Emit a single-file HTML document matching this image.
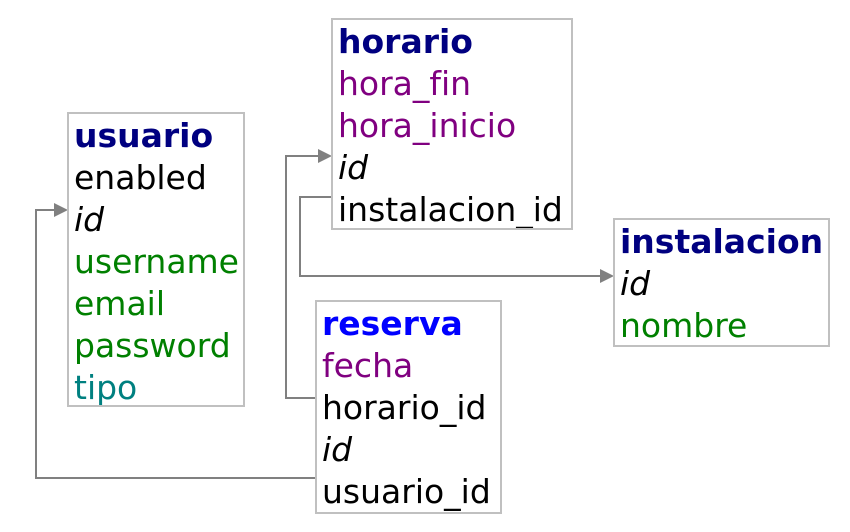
<!DOCTYPE html>
<html><head><meta charset="utf-8"><style>
html,body{margin:0;padding:0;background:#fff;width:850px;height:532px;overflow:hidden}
body{position:relative;font-family:"DejaVu Sans","Liberation Sans",sans-serif;font-size:33px;font-variant-ligatures:none}
.b{position:absolute;border:2px solid #c0c0c0;background:#fff;box-sizing:border-box;padding:1px 0 0 5px;overflow:hidden}
.b div{height:42px;line-height:42px;white-space:nowrap}
.t{font-weight:bold;color:#000080}
.k{color:#000}
.i{font-style:italic;color:#000}
.g{color:#008000}
.p{color:#800080}
.c{color:#008080}
svg{position:absolute;left:0;top:0}
</style></head><body>
<svg width="850" height="532">
<g stroke="#808080" stroke-width="2" fill="none">
<polyline points="332,197 300,197 300,276 604,276"/>
<polyline points="316,398 286,398 286,156 322,156"/>
<polyline points="316,478 36,478 36,210 58,210"/>
</g>
<g fill="#808080">
<polygon points="614,276 600,269 600,283"/>
<polygon points="332,156 318,149 318,163"/>
<polygon points="68,210 54,203 54,217"/>
</g>
</svg>
<div class="b" style="left:67px;top:112px;width:178px;height:295px">
<div class="t">usuario</div><div class="k">enabled</div><div class="i">id</div><div class="g">username</div><div class="g">email</div><div class="g">password</div><div class="c">tipo</div>
</div>
<div class="b" style="left:331px;top:18px;width:242px;height:212px">
<div class="t">horario</div><div class="p">hora_fin</div><div class="p">hora_inicio</div><div class="i">id</div><div class="k">instalacion_id</div>
</div>
<div class="b" style="left:613px;top:218px;width:217px;height:129px">
<div class="t">instalacion</div><div class="i">id</div><div class="g">nombre</div>
</div>
<div class="b" style="left:315px;top:300px;width:187px;height:214px">
<div class="t" style="color:#0000ff">reserva</div><div class="p">fecha</div><div class="k">horario_id</div><div class="i">id</div><div class="k">usuario_id</div>
</div>
</body></html>
